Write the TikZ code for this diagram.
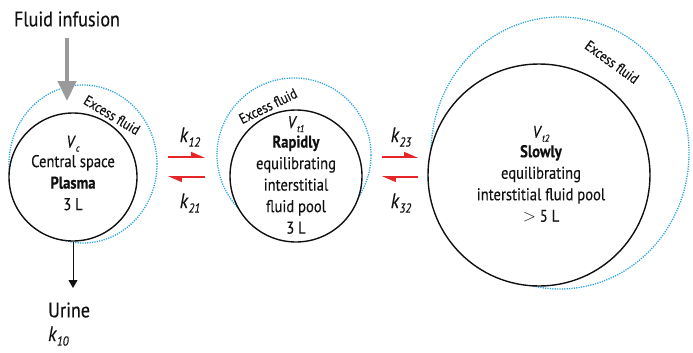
\documentclass[tikz,border=0pt]{standalone}
\usepackage{fontspec}
\setmainfont{PT Sans}[FakeStretch=0.86, FakeBold=0.35]
\usetikzlibrary{arrows.meta,positioning,shapes.geometric}
\definecolor{ink}{HTML}{111111}
\definecolor{excessblue}{HTML}{2AA3DF}
\definecolor{flowred}{HTML}{E52528}
\definecolor{infgrey}{HTML}{9A9A9A}

\newcommand{\rate}[1]{\textit{k}\raisebox{-4.5pt}{\fontsize{13}{13}\selectfont\itshape #1}}
\newcommand{\vol}[1]{\textit{V}\raisebox{-4pt}{\fontsize{10}{10}\selectfont\itshape #1}}

\begin{document}
\begin{tikzpicture}[x=1pt, y=-1pt,
  font=\fontsize{17}{21.5}\selectfont,
  pool/.style={draw=ink, line width=1.4pt, fill=white, circle, inner sep=0pt},
  excess/.style={draw=excessblue, line width=1.3pt, dash pattern=on 1.2pt off 1.2pt,
                 ellipse, inner sep=0pt},
  txt/.style={align=center, text=ink, inner sep=0pt},
  exlbl/.style={font=\fontsize{14.5}{15}\selectfont, text=ink, inner sep=0pt},
  big/.style={font=\fontsize{21}{23}\selectfont, text=ink, inner sep=0pt},
  flow/.style={draw=flowred, line width=1.6pt,
               -{Triangle[harpoon, length=12pt, width=10pt]}},
  infuse/.style={draw=infgrey, line width=4.5pt,
                 -{Triangle[length=20pt, width=18pt]}},
  drain/.style={draw=ink, line width=1pt, -{Triangle[length=8pt, width=9pt]}}
]
\useasboundingbox (0,0) rectangle (693,353);

% ---- excess fluid rings -------------------------------------------------
\node[excess, minimum width=148pt, minimum height=158pt] (ex1) at (83,164)  {};
\node[excess, minimum width=154pt, minimum height=154pt] (ex2) at (294,155) {};
\node[excess, minimum width=258pt, minimum height=272pt] (ex3) at (560,153) {};

% ---- compartments -------------------------------------------------------
\node[pool, minimum size=128pt] (cen) at (73,177)  {};
\node[pool, minimum size=132pt] (rap) at (296,176) {};
\node[pool, minimum size=222pt] (slo) at (539,175) {};

\node[txt] (cent) at (73,173)
  {\vol{c}\\[-2pt] Central space\\ \textbf{Plasma}\\ 3 L};
\node[txt] (rapt) at (296,175)
  {\vol{t1}\\[-2pt] \textbf{Rapidly}\\ equilibrating\\ interstitial\\ fluid pool\\ 3 L};
\node[txt] (slot) at (541,174)
  {\vol{t2}\\[-2pt] \textbf{Slowly}\\ equilibrating\\ interstitial fluid pool\\ $>$ 5 L};

\node[exlbl, rotate=-31] (ex1l) at (112,115) {Excess fluid};
\node[exlbl, rotate=26]  (ex2l) at (268,106) {Excess fluid};
\node[exlbl, rotate=-36] (ex3l) at (612,62)  {Excess fluid};

% ---- infusion and urine -------------------------------------------------
\node[big] (inf) at (67,19) {Fluid infusion};
\coordinate (infend) at (67,101);
\draw[infuse] (inf.south) ++(0,11) -- (infend);

\node[big, anchor=west] (urn) at (48,310) {Urine};
\node[big, anchor=west] (k10) at (48,336) {\rate{10}};
\draw[drain] (cen.south) -- (cen.south |- 0,288);

% ---- exchange between pools ---------------------------------------------
\coordinate (a12) at (168,157);  \coordinate (b12) at (205,157);
\coordinate (a21) at (205,177);  \coordinate (b21) at (168,177);
\coordinate (a23) at (382,157);  \coordinate (b23) at (418,157);
\coordinate (a32) at (418,177);  \coordinate (b32) at (382,177);
\draw[flow] (a12) -- (b12);
\draw[flow] (a21) -- (b21);
\draw[flow] (a23) -- (b23);
\draw[flow] (a32) -- (b32);

\node[big] (k12) at (190,137) {\rate{12}};
\node[big] (k21) at (190,203) {\rate{21}};
\node[big] (k23) at (401,137) {\rate{23}};
\node[big] (k32) at (401,203) {\rate{32}};

\end{tikzpicture}
\end{document}
